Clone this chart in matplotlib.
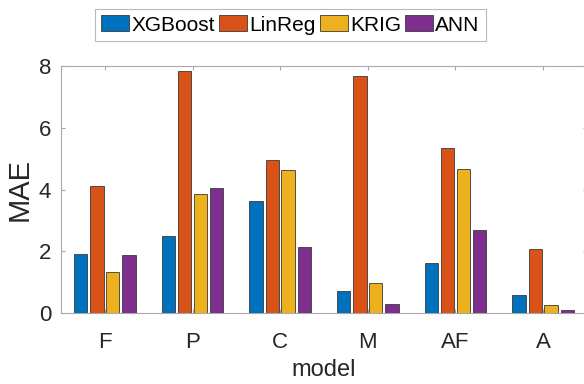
import numpy as np
import matplotlib
matplotlib.use('Agg')
from matplotlib import pyplot as plt
from matplotlib.patches import Patch

plt.rcParams['font.family'] = ['Liberation Sans', 'DejaVu Sans']

# MAE per target model, one list per regressor
models = ['F', 'P', 'C', 'M', 'AF', 'A']
xgboost = [1.90, 2.50, 3.63, 0.72, 1.63, 0.58]
linreg = [4.12, 7.85, 4.94, 7.66, 5.36, 2.08]
krig = [1.32, 3.84, 4.62, 0.97, 4.66, 0.25]
ann = [1.87, 4.05, 2.13, 0.29, 2.70, 0.11]
names = ['XGBoost', 'LinReg', 'KRIG', 'ANN']
colors = ['#0072BD', '#D95319', '#EDB120', '#7E2F8E']

txt = '#262626'
edge = '#3a3a3a'
spine = '#a8a8a8'

fig = plt.figure(figsize=(5.84, 3.84), dpi=100)
ax = fig.add_axes([61/584, 1-313/384, 526/584, 247/384])

x = np.arange(1, len(models)+1)
offsets = [-0.274, -0.091, 0.091, 0.274]
for vals, off, c in zip([xgboost, linreg, krig, ann], offsets, colors):
    ax.bar(x + off, vals, width=0.152, color=c, edgecolor=edge, linewidth=0.6, zorder=3)

ax.set_xlim(0.5, 6.5)
ax.set_ylim(0, 8)
ax.set_xticks(x)
ax.set_xticklabels(models)
ax.set_yticks([0, 2, 4, 6, 8])
ax.tick_params(direction='in', length=3, color=spine, labelsize=16, labelcolor=txt,
               top=True, right=True)
ax.tick_params(axis='x', pad=14)
ax.tick_params(axis='y', pad=7)
for s in ax.spines.values():
    s.set_color(spine)
    s.set_linewidth(0.8)

ax.set_ylabel('MAE', fontsize=21, color=txt, labelpad=4)
ax.set_xlabel('model', fontsize=17, color=txt, labelpad=4)

handles = [Patch(facecolor=c, edgecolor=edge, linewidth=0.6) for c in colors]
leg = fig.legend(handles, names, loc='center', bbox_to_anchor=(0.497, 0.935), ncol=4,
                 fontsize=15, frameon=True, fancybox=False, handlelength=1.35,
                 handleheight=0.8, handletextpad=0.1, columnspacing=0.2,
                 borderpad=0.3, borderaxespad=0)
leg.get_frame().set_edgecolor(spine)
leg.get_frame().set_linewidth(0.8)
for t in leg.get_texts():
    t.set_color('black')

fig.savefig('out.png', dpi=100)
